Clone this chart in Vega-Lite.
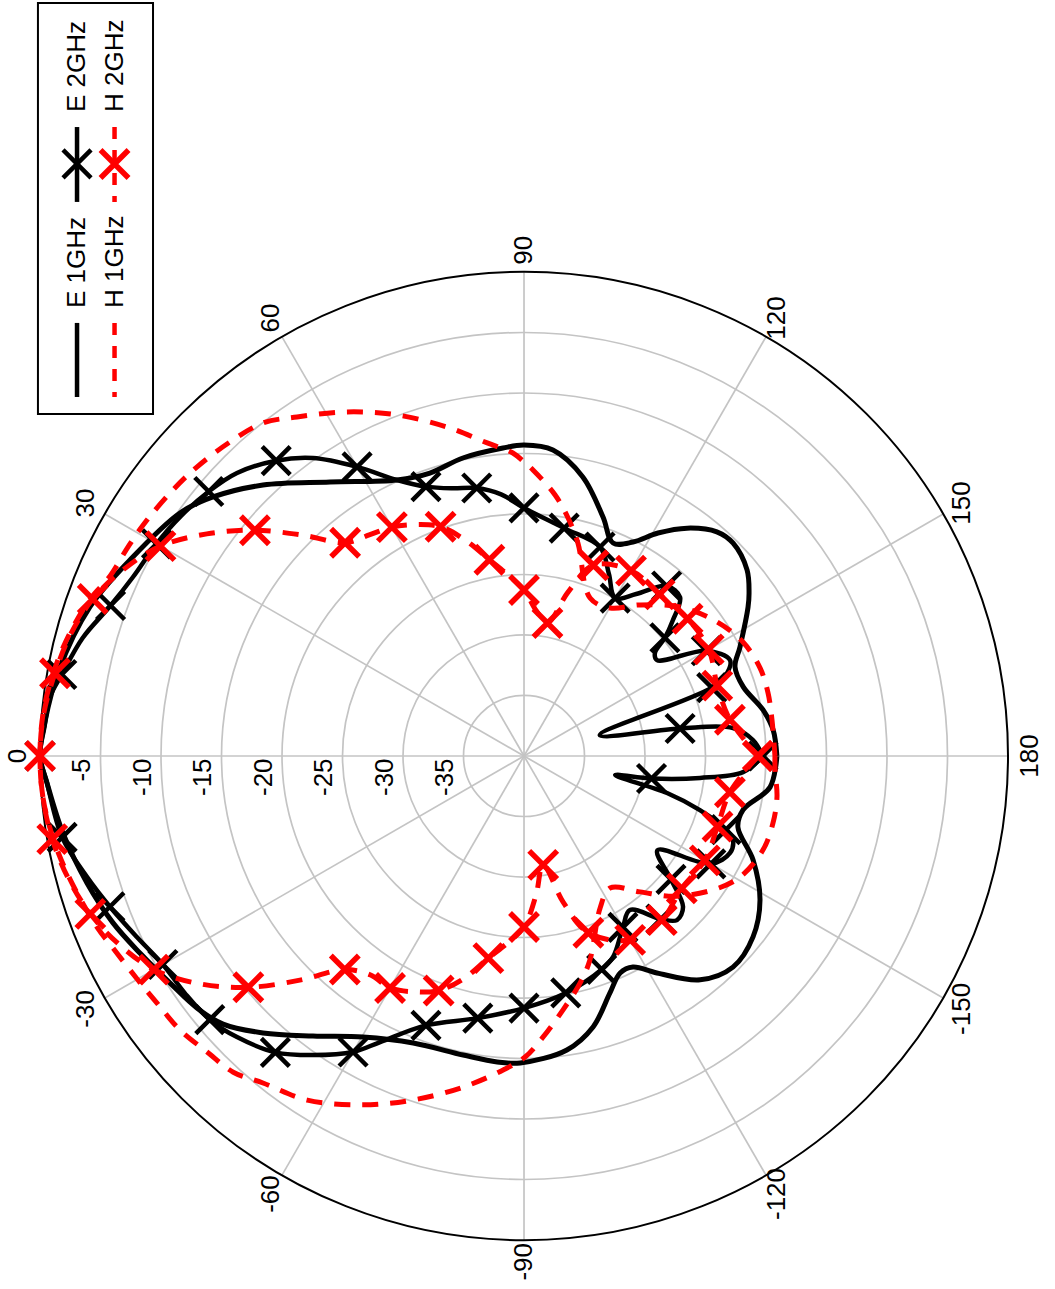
{
  "$schema": "https://vega.github.io/schema/vega-lite/v6.json",
  "width": 1055,
  "height": 1289,
  "autosize": {"type": "none"},
  "padding": 0,
  "background": "white",
  "config": {"view": {"stroke": null}},
  "data": {"values": [{"k": 1}]},
  "datasets": {
    "rings": [{"db": -35}, {"db": -30}, {"db": -25}, {"db": -20}, {"db": -15}, {"db": -10}, {"db": -5}],
    "outer": [{"db": 0}],
    "spokes": [{"a": 0}, {"a": 30}, {"a": 60}, {"a": 90}, {"a": 120}, {"a": 150}, {"a": 180}, {"a": 210}, {"a": 240}, {"a": 270}, {"a": 300}, {"a": 330}],
    "alabels": [{"a": 0, "t": "0"}, {"a": 30, "t": "30"}, {"a": 60, "t": "60"}, {"a": 90, "t": "90"}, {"a": 120, "t": "120"}, {"a": 150, "t": "150"}, {"a": 180, "t": "180"}, {"a": -150, "t": "-150"}, {"a": -120, "t": "-120"}, {"a": -90, "t": "-90"}, {"a": -60, "t": "-60"}, {"a": -30, "t": "-30"}],
    "rlabels": [{"db": -5, "t": "-5"}, {"db": -10, "t": "-10"}, {"db": -15, "t": "-15"}, {"db": -20, "t": "-20"}, {"db": -25, "t": "-25"}, {"db": -30, "t": "-30"}, {"db": -35, "t": "-35"}],
    "curves": [
      {"s": "E1", "a": -180, "db": -19.1}, {"s": "E1", "a": -172.8, "db": -19.5}, {"s": "E1", "a": -166.2, "db": -21.36}, {"s": "E1", "a": -161.6, "db": -21.37}, {"s": "E1", "a": -155.6, "db": -19.21}, {"s": "E1", "a": -148.6, "db": -17.15}, {"s": "E1", "a": -141.7, "db": -15.88}, {"s": "E1", "a": -134.7, "db": -15.45}, {"s": "E1", "a": -128.2, "db": -16.46}, {"s": "E1", "a": -121.5, "db": -18.97}, {"s": "E1", "a": -117.3, "db": -20.37}, {"s": "E1", "a": -113.9, "db": -20.39}, {"s": "E1", "a": -109.9, "db": -19.16}, {"s": "E1", "a": -104.3, "db": -16.89}, {"s": "E1", "a": -98.3, "db": -15.45}, {"s": "E1", "a": -89.3, "db": -14.63}, {"s": "E1", "a": -85, "db": -14.61}, {"s": "E1", "a": -78.5, "db": -14.78}, {"s": "E1", "a": -68.9, "db": -14.57}, {"s": "E1", "a": -60.2, "db": -13.23}, {"s": "E1", "a": -53, "db": -11.02}, {"s": "E1", "a": -46.7, "db": -8.55}, {"s": "E1", "a": -41.7, "db": -6.69}, {"s": "E1", "a": -37.6, "db": -5.88}, {"s": "E1", "a": -32.7, "db": -5.25}, {"s": "E1", "a": -27.2, "db": -4.33}, {"s": "E1", "a": -22.1, "db": -3.34}, {"s": "E1", "a": -16.2, "db": -2.39}, {"s": "E1", "a": -9.5, "db": -1.37}, {"s": "E1", "a": -3.2, "db": -0.51}, {"s": "E1", "a": 0, "db": 0}, {"s": "E1", "a": 4, "db": -0.3}, {"s": "E1", "a": 10.35, "db": -0.9}, {"s": "E1", "a": 18.95, "db": -2.07}, {"s": "E1", "a": 26.45, "db": -3.63}, {"s": "E1", "a": 35.24, "db": -5.19}, {"s": "E1", "a": 39.79, "db": -6.55}, {"s": "E1", "a": 46.07, "db": -8.91}, {"s": "E1", "a": 54.7, "db": -12.26}, {"s": "E1", "a": 65.3, "db": -14.89}, {"s": "E1", "a": 71.6, "db": -15.36}, {"s": "E1", "a": 78.4, "db": -14.86}, {"s": "E1", "a": 86.1, "db": -14.49}, {"s": "E1", "a": 90, "db": -14.3}, {"s": "E1", "a": 95.4, "db": -14.6}, {"s": "E1", "a": 101.9, "db": -16.43}, {"s": "E1", "a": 108.3, "db": -19.2}, {"s": "E1", "a": 112.7, "db": -20.92}, {"s": "E1", "a": 117, "db": -20.15}, {"s": "E1", "a": 121, "db": -18.5}, {"s": "E1", "a": 125.6, "db": -16.84}, {"s": "E1", "a": 130.7, "db": -15.56}, {"s": "E1", "a": 134.5, "db": -15.34}, {"s": "E1", "a": 140.2, "db": -16.0}, {"s": "E1", "a": 144.1, "db": -17.04}, {"s": "E1", "a": 146.4, "db": -17.77}, {"s": "E1", "a": 153.2, "db": -20.0}, {"s": "E1", "a": 157.1, "db": -21.07}, {"s": "E1", "a": 162.5, "db": -21.0}, {"s": "E1", "a": 169.1, "db": -19.88}, {"s": "E1", "a": 174, "db": -19.3}, {"s": "E1", "a": 180, "db": -19.1},

      {"s": "E2", "a": -180, "db": -20.25, "m": 1}, {"s": "E2", "a": -175.8, "db": -21.85}, {"s": "E2", "a": -172.9, "db": -25.34}, {"s": "E2", "a": -170, "db": -29.3, "m": 1}, {"s": "E2", "a": -168.2, "db": -32.3}, {"s": "E2", "a": -165.5, "db": -27.79}, {"s": "E2", "a": -162.9, "db": -24.79}, {"s": "E2", "a": -160, "db": -22.23, "m": 1}, {"s": "E2", "a": -158.1, "db": -21.39}, {"s": "E2", "a": -154.8, "db": -21.18}, {"s": "E2", "a": -150, "db": -22.17, "m": 1}, {"s": "E2", "a": -144.8, "db": -26.5}, {"s": "E2", "a": -140, "db": -24.14, "m": 1}, {"s": "E2", "a": -136.5, "db": -21.88}, {"s": "E2", "a": -133, "db": -21.46}, {"s": "E2", "a": -130, "db": -22.4, "m": 1}, {"s": "E2", "a": -124.5, "db": -24.55}, {"s": "E2", "a": -120, "db": -23.65, "m": 1}, {"s": "E2", "a": -113.9, "db": -21.83}, {"s": "E2", "a": -110, "db": -21.23, "m": 1}, {"s": "E2", "a": -100, "db": -20.12, "m": 1}, {"s": "E2", "a": -90, "db": -19.17, "m": 1}, {"s": "E2", "a": -80, "db": -18.0, "m": 1}, {"s": "E2", "a": -70, "db": -16.31, "m": 1}, {"s": "E2", "a": -63.3, "db": -13.54}, {"s": "E2", "a": -60, "db": -11.75, "m": 1}, {"s": "E2", "a": -54.8, "db": -9.75}, {"s": "E2", "a": -50, "db": -8.03, "m": 1}, {"s": "E2", "a": -44.4, "db": -6.8}, {"s": "E2", "a": -40, "db": -6.1, "m": 1}, {"s": "E2", "a": -35, "db": -5.8}, {"s": "E2", "a": -30, "db": -5.54, "m": 1}, {"s": "E2", "a": -25.1, "db": -4.69}, {"s": "E2", "a": -20, "db": -3.58, "m": 1}, {"s": "E2", "a": -15.5, "db": -2.53}, {"s": "E2", "a": -10, "db": -1.24, "m": 1}, {"s": "E2", "a": -3.2, "db": -0.51}, {"s": "E2", "a": 0, "db": 0, "m": 1}, {"s": "E2", "a": 3.5, "db": -0.3}, {"s": "E2", "a": 7.1, "db": -0.52}, {"s": "E2", "a": 10, "db": -1.21, "m": 1}, {"s": "E2", "a": 15, "db": -2.25}, {"s": "E2", "a": 20, "db": -3.64, "m": 1}, {"s": "E2", "a": 24.6, "db": -4.46}, {"s": "E2", "a": 30, "db": -4.93, "m": 1}, {"s": "E2", "a": 35, "db": -5.4}, {"s": "E2", "a": 40, "db": -5.99, "m": 1}, {"s": "E2", "a": 44.6, "db": -6.69}, {"s": "E2", "a": 50, "db": -8.14, "m": 1}, {"s": "E2", "a": 54.7, "db": -9.83}, {"s": "E2", "a": 60, "db": -12.41, "m": 1}, {"s": "E2", "a": 65.3, "db": -14.89}, {"s": "E2", "a": 70, "db": -16.31, "m": 1}, {"s": "E2", "a": 75, "db": -17.1}, {"s": "E2", "a": 80, "db": -17.51, "m": 1}, {"s": "E2", "a": 85, "db": -18.3}, {"s": "E2", "a": 90, "db": -19.5, "m": 1}, {"s": "E2", "a": 100, "db": -20.88, "m": 1}, {"s": "E2", "a": 110, "db": -21.62, "m": 1}, {"s": "E2", "a": 115, "db": -23.4}, {"s": "E2", "a": 120, "db": -24.93, "m": 1}, {"s": "E2", "a": 124.7, "db": -23.72}, {"s": "E2", "a": 130, "db": -21.66, "m": 1}, {"s": "E2", "a": 134.5, "db": -21.6}, {"s": "E2", "a": 137.6, "db": -23.33}, {"s": "E2", "a": 140, "db": -24.8, "m": 1}, {"s": "E2", "a": 141.8, "db": -26.23}, {"s": "E2", "a": 144.2, "db": -26.45}, {"s": "E2", "a": 150, "db": -22.6, "m": 1}, {"s": "E2", "a": 155, "db": -21.22}, {"s": "E2", "a": 157.8, "db": -21.88}, {"s": "E2", "a": 160, "db": -23.49, "m": 1}, {"s": "E2", "a": 164.6, "db": -33.5}, {"s": "E2", "a": 170, "db": -26.9, "m": 1}, {"s": "E2", "a": 172.4, "db": -22.57}, {"s": "E2", "a": 176, "db": -21.03}, {"s": "E2", "a": 180, "db": -20.25},

      {"s": "H1", "a": -180, "db": -19.26}, {"s": "H1", "a": -176.8, "db": -19.22}, {"s": "H1", "a": -170.8, "db": -18.82}, {"s": "H1", "a": -164.9, "db": -18.69}, {"s": "H1", "a": -158.5, "db": -18.78}, {"s": "H1", "a": -150.7, "db": -19.54}, {"s": "H1", "a": -144.7, "db": -20.85}, {"s": "H1", "a": -137, "db": -23.0}, {"s": "H1", "a": -130.5, "db": -25.23}, {"s": "H1", "a": -123.1, "db": -26.98}, {"s": "H1", "a": -116.6, "db": -25.95}, {"s": "H1", "a": -107.9, "db": -22.28}, {"s": "H1", "a": -103.9, "db": -20.68}, {"s": "H1", "a": -98.7, "db": -18.76}, {"s": "H1", "a": -93.9, "db": -16.73}, {"s": "H1", "a": -90.2, "db": -15.12}, {"s": "H1", "a": -86.2, "db": -13.99}, {"s": "H1", "a": -79.6, "db": -12.18}, {"s": "H1", "a": -72.1, "db": -10.12}, {"s": "H1", "a": -65.2, "db": -8.24}, {"s": "H1", "a": -57.8, "db": -6.39}, {"s": "H1", "a": -51.4, "db": -5.42}, {"s": "H1", "a": -47.4, "db": -4.5}, {"s": "H1", "a": -43, "db": -4.16}, {"s": "H1", "a": -38.5, "db": -3.65}, {"s": "H1", "a": -34, "db": -3.44}, {"s": "H1", "a": -30, "db": -3.1}, {"s": "H1", "a": -25, "db": -2.5}, {"s": "H1", "a": -21.8, "db": -1.98}, {"s": "H1", "a": -15, "db": -1.1}, {"s": "H1", "a": -10, "db": -0.5}, {"s": "H1", "a": -5, "db": -0.1}, {"s": "H1", "a": 0, "db": 0}, {"s": "H1", "a": 5, "db": -0.1}, {"s": "H1", "a": 10, "db": -0.5}, {"s": "H1", "a": 15, "db": -1.1}, {"s": "H1", "a": 20, "db": -1.9}, {"s": "H1", "a": 23.5, "db": -2.7}, {"s": "H1", "a": 28, "db": -3.0}, {"s": "H1", "a": 32, "db": -3.24}, {"s": "H1", "a": 37.2, "db": -3.6}, {"s": "H1", "a": 41.5, "db": -3.93}, {"s": "H1", "a": 46.9, "db": -4.45}, {"s": "H1", "a": 51.9, "db": -5.03}, {"s": "H1", "a": 56.2, "db": -6.28}, {"s": "H1", "a": 62.8, "db": -8.03}, {"s": "H1", "a": 69.6, "db": -9.93}, {"s": "H1", "a": 76.8, "db": -12.07}, {"s": "H1", "a": 83.3, "db": -13.95}, {"s": "H1", "a": 87.9, "db": -14.94}, {"s": "H1", "a": 90, "db": -15.7}, {"s": "H1", "a": 91.8, "db": -16.35}, {"s": "H1", "a": 96.8, "db": -18.28}, {"s": "H1", "a": 100.5, "db": -20.0}, {"s": "H1", "a": 104.2, "db": -21.84}, {"s": "H1", "a": 112.7, "db": -25.85}, {"s": "H1", "a": 120.2, "db": -25.85}, {"s": "H1", "a": 127.5, "db": -24.26}, {"s": "H1", "a": 136.3, "db": -22.17}, {"s": "H1", "a": 145.2, "db": -20.58}, {"s": "H1", "a": 152.5, "db": -19.6}, {"s": "H1", "a": 159.6, "db": -19.18}, {"s": "H1", "a": 165.5, "db": -19.17}, {"s": "H1", "a": 171.7, "db": -19.29}, {"s": "H1", "a": 180, "db": -19.26},

      {"s": "H2", "a": -180, "db": -20.66, "m": 1}, {"s": "H2", "a": -170, "db": -22.72, "m": 1}, {"s": "H2", "a": -160, "db": -22.98, "m": 1}, {"s": "H2", "a": -150, "db": -22.75, "m": 1}, {"s": "H2", "a": -140, "db": -22.98, "m": 1}, {"s": "H2", "a": -130, "db": -22.29, "m": 1}, {"s": "H2", "a": -120, "db": -22.45, "m": 1}, {"s": "H2", "a": -110, "db": -24.45, "m": 1}, {"s": "H2", "a": -105, "db": -27.5}, {"s": "H2", "a": -100, "db": -30.86, "m": 1}, {"s": "H2", "a": -95, "db": -28.5}, {"s": "H2", "a": -90, "db": -25.87, "m": 1}, {"s": "H2", "a": -85, "db": -24.5}, {"s": "H2", "a": -80, "db": -23.04, "m": 1}, {"s": "H2", "a": -75, "db": -21.0}, {"s": "H2", "a": -70, "db": -19.37, "m": 1}, {"s": "H2", "a": -65, "db": -18.5}, {"s": "H2", "a": -60, "db": -17.86, "m": 1}, {"s": "H2", "a": -55, "db": -17.9}, {"s": "H2", "a": -50, "db": -16.96, "m": 1}, {"s": "H2", "a": -45, "db": -13.8}, {"s": "H2", "a": -40, "db": -10.26, "m": 1}, {"s": "H2", "a": -35, "db": -7.2}, {"s": "H2", "a": -30, "db": -4.69, "m": 1}, {"s": "H2", "a": -25, "db": -3.1}, {"s": "H2", "a": -20, "db": -1.86, "m": 1}, {"s": "H2", "a": -15, "db": -1.0}, {"s": "H2", "a": -10, "db": -0.41, "m": 1}, {"s": "H2", "a": -5, "db": -0.1}, {"s": "H2", "a": 0, "db": 0, "m": 1}, {"s": "H2", "a": 5, "db": -0.15}, {"s": "H2", "a": 10, "db": -0.64, "m": 1}, {"s": "H2", "a": 15, "db": -1.2}, {"s": "H2", "a": 20, "db": -2.07, "m": 1}, {"s": "H2", "a": 25, "db": -3.5}, {"s": "H2", "a": 30, "db": -5.31, "m": 1}, {"s": "H2", "a": 35, "db": -8.0}, {"s": "H2", "a": 40, "db": -10.97, "m": 1}, {"s": "H2", "a": 45, "db": -14.2}, {"s": "H2", "a": 50, "db": -17.0, "m": 1}, {"s": "H2", "a": 55, "db": -17.7}, {"s": "H2", "a": 60, "db": -18.16, "m": 1}, {"s": "H2", "a": 65, "db": -18.9}, {"s": "H2", "a": 70, "db": -19.84, "m": 1}, {"s": "H2", "a": 75, "db": -21.6}, {"s": "H2", "a": 80, "db": -23.53, "m": 1}, {"s": "H2", "a": 85, "db": -25.0}, {"s": "H2", "a": 90, "db": -26.28, "m": 1}, {"s": "H2", "a": 95, "db": -28.0}, {"s": "H2", "a": 100, "db": -28.84, "m": 1}, {"s": "H2", "a": 105, "db": -26.0}, {"s": "H2", "a": 110, "db": -23.22, "m": 1}, {"s": "H2", "a": 120, "db": -22.31, "m": 1}, {"s": "H2", "a": 130, "db": -22.56, "m": 1}, {"s": "H2", "a": 140, "db": -22.35, "m": 1}, {"s": "H2", "a": 150, "db": -22.37, "m": 1}, {"s": "H2", "a": 160, "db": -23.0, "m": 1}, {"s": "H2", "a": 170, "db": -22.72, "m": 1}, {"s": "H2", "a": 180, "db": -20.66, "m": 1}
    ],
    "legtext": [{"t": "E 1GHz", "c": 0, "r": 0}, {"t": "H 1GHz", "c": 1, "r": 0}, {"t": "E 2GHz", "c": 0, "r": 1}, {"t": "H 2GHz", "c": 1, "r": 1}],
    "legbox": [{"x1": -40.17, "x2": -30.66, "y1": 62.23, "y2": 28.26}],
    "legline": [{"s": "E1", "x": -36.94, "y1": 29.67, "y2": 35.79}, {"s": "H1", "x": -33.84, "y1": 35.79, "y2": 29.67}, {"s": "E2", "x": -36.94, "y1": 45.79, "y2": 51.98}, {"s": "H2", "x": -33.84, "y1": 51.98, "y2": 45.79}],
    "legmark": [{"s": "E2", "x": -36.94, "y": 48.93}, {"s": "H2", "x": -33.84, "y": 48.93}]
  },
  "layer": [
    {
      "data": {"name": "rings"},
      "transform": [{"calculate": "datum.db + 40", "as": "rr"}, {"calculate": "0", "as": "cx"}],
      "mark": {"type": "point", "shape": "circle", "filled": false, "stroke": "#c4c4c4", "strokeWidth": 1.7, "opacity": 1},
      "encoding": {
        "x": {"field": "cx", "type": "quantitative", "scale": {"domain": [-43.306, 43.884], "nice": false, "zero": false}, "axis": null},
        "y": {"field": "cx", "type": "quantitative", "scale": {"domain": [-44.05, 62.479], "nice": false, "zero": false}, "axis": null},
        "size": {"field": "rr", "type": "quantitative", "scale": {"type": "pow", "exponent": 2, "domain": [0, 40], "range": [0, 937024]}, "legend": null}
      }
    },
    {
      "data": {"name": "spokes"},
      "transform": [
        {"calculate": "0", "as": "cx"},
        {"calculate": "-40 * cos(datum.a * PI / 180)", "as": "ex"},
        {"calculate": "40 * sin(datum.a * PI / 180)", "as": "ey"}
      ],
      "mark": {"type": "rule", "stroke": "#c4c4c4", "strokeWidth": 1.7},
      "encoding": {
        "x": {"field": "cx", "type": "quantitative", "scale": {"domain": [-43.306, 43.884], "nice": false, "zero": false}, "axis": null},
        "y": {"field": "cx", "type": "quantitative", "scale": {"domain": [-44.05, 62.479], "nice": false, "zero": false}, "axis": null},
        "x2": {"field": "ex"},
        "y2": {"field": "ey"}
      }
    },
    {
      "data": {"name": "outer"},
      "transform": [{"calculate": "datum.db + 40", "as": "rr"}, {"calculate": "0", "as": "cx"}],
      "mark": {"type": "point", "shape": "circle", "filled": false, "stroke": "black", "strokeWidth": 2, "opacity": 1},
      "encoding": {
        "x": {"field": "cx", "type": "quantitative", "scale": {"domain": [-43.306, 43.884], "nice": false, "zero": false}, "axis": null},
        "y": {"field": "cx", "type": "quantitative", "scale": {"domain": [-44.05, 62.479], "nice": false, "zero": false}, "axis": null},
        "size": {"field": "rr", "type": "quantitative", "scale": {"type": "pow", "exponent": 2, "domain": [0, 40], "range": [0, 937024]}, "legend": null}
      }
    },
    {
      "data": {"name": "alabels"},
      "transform": [
        {"calculate": "-41.8 * cos(datum.a * PI / 180)", "as": "x"},
        {"calculate": "41.8 * sin(datum.a * PI / 180)", "as": "y"}
      ],
      "mark": {"type": "text", "angle": 270, "font": "Liberation Sans", "fontSize": 26, "align": "center", "baseline": "middle", "color": "black"},
      "encoding": {
        "x": {"field": "x", "type": "quantitative", "scale": {"domain": [-43.306, 43.884], "nice": false, "zero": false}, "axis": null},
        "y": {"field": "y", "type": "quantitative", "scale": {"domain": [-44.05, 62.479], "nice": false, "zero": false}, "axis": null},
        "text": {"field": "t", "type": "nominal"}
      }
    },
    {
      "data": {"name": "rlabels"},
      "transform": [
        {"calculate": "-(datum.db + 40) - 1.5", "as": "x"},
        {"calculate": "-0.2", "as": "y"}
      ],
      "mark": {"type": "text", "angle": 270, "font": "Liberation Sans", "fontSize": 26, "align": "right", "baseline": "middle", "color": "black"},
      "encoding": {
        "x": {"field": "x", "type": "quantitative", "scale": {"domain": [-43.306, 43.884], "nice": false, "zero": false}, "axis": null},
        "y": {"field": "y", "type": "quantitative", "scale": {"domain": [-44.05, 62.479], "nice": false, "zero": false}, "axis": null},
        "text": {"field": "t", "type": "nominal"}
      }
    },
    {
      "data": {"name": "curves"},
      "transform": [
        {"filter": "datum.s == 'E1'"},
        {"calculate": "-(datum.db + 40) * cos(datum.a * PI / 180)", "as": "x"},
        {"calculate": "(datum.db + 40) * sin(datum.a * PI / 180)", "as": "y"}
      ],
      "mark": {"type": "line", "stroke": "black", "strokeWidth": 5, "interpolate": "catmull-rom", "strokeJoin": "round"},
      "encoding": {
        "x": {"field": "x", "type": "quantitative", "scale": {"domain": [-43.306, 43.884], "nice": false, "zero": false}, "axis": null},
        "y": {"field": "y", "type": "quantitative", "scale": {"domain": [-44.05, 62.479], "nice": false, "zero": false}, "axis": null},
        "order": {"field": "a", "type": "quantitative"}
      }
    },
    {
      "data": {"name": "curves"},
      "transform": [
        {"filter": "datum.s == 'E2'"},
        {"calculate": "-(datum.db + 40) * cos(datum.a * PI / 180)", "as": "x"},
        {"calculate": "(datum.db + 40) * sin(datum.a * PI / 180)", "as": "y"}
      ],
      "mark": {"type": "line", "stroke": "black", "strokeWidth": 4.5, "interpolate": "catmull-rom", "strokeJoin": "round"},
      "encoding": {
        "x": {"field": "x", "type": "quantitative", "scale": {"domain": [-43.306, 43.884], "nice": false, "zero": false}, "axis": null},
        "y": {"field": "y", "type": "quantitative", "scale": {"domain": [-44.05, 62.479], "nice": false, "zero": false}, "axis": null},
        "order": {"field": "a", "type": "quantitative"}
      }
    },
    {
      "data": {"name": "curves"},
      "transform": [
        {"filter": "datum.s == 'E2' && datum.m == 1"},
        {"calculate": "-(datum.db + 40) * cos(datum.a * PI / 180)", "as": "x"},
        {"calculate": "(datum.db + 40) * sin(datum.a * PI / 180)", "as": "y"}
      ],
      "mark": {"type": "point", "shape": "M-1,-1L1,1M-1,1L1,-1", "filled": false, "stroke": "black", "strokeWidth": 4.5, "size": 784, "opacity": 1},
      "encoding": {
        "x": {"field": "x", "type": "quantitative", "scale": {"domain": [-43.306, 43.884], "nice": false, "zero": false}, "axis": null},
        "y": {"field": "y", "type": "quantitative", "scale": {"domain": [-44.05, 62.479], "nice": false, "zero": false}, "axis": null}
      }
    },
    {
      "data": {"name": "curves"},
      "transform": [
        {"filter": "datum.s == 'H1'"},
        {"calculate": "-(datum.db + 40) * cos(datum.a * PI / 180)", "as": "x"},
        {"calculate": "(datum.db + 40) * sin(datum.a * PI / 180)", "as": "y"}
      ],
      "mark": {"type": "line", "stroke": "#ff0000", "strokeWidth": 5, "strokeDash": [16, 12], "interpolate": "catmull-rom"},
      "encoding": {
        "x": {"field": "x", "type": "quantitative", "scale": {"domain": [-43.306, 43.884], "nice": false, "zero": false}, "axis": null},
        "y": {"field": "y", "type": "quantitative", "scale": {"domain": [-44.05, 62.479], "nice": false, "zero": false}, "axis": null},
        "order": {"field": "a", "type": "quantitative"}
      }
    },
    {
      "data": {"name": "curves"},
      "transform": [
        {"filter": "datum.s == 'H2'"},
        {"calculate": "-(datum.db + 40) * cos(datum.a * PI / 180)", "as": "x"},
        {"calculate": "(datum.db + 40) * sin(datum.a * PI / 180)", "as": "y"}
      ],
      "mark": {"type": "line", "stroke": "#ff0000", "strokeWidth": 5, "strokeDash": [16, 12], "interpolate": "catmull-rom"},
      "encoding": {
        "x": {"field": "x", "type": "quantitative", "scale": {"domain": [-43.306, 43.884], "nice": false, "zero": false}, "axis": null},
        "y": {"field": "y", "type": "quantitative", "scale": {"domain": [-44.05, 62.479], "nice": false, "zero": false}, "axis": null},
        "order": {"field": "a", "type": "quantitative"}
      }
    },
    {
      "data": {"name": "curves"},
      "transform": [
        {"filter": "datum.s == 'H2' && datum.m == 1"},
        {"calculate": "-(datum.db + 40) * cos(datum.a * PI / 180)", "as": "x"},
        {"calculate": "(datum.db + 40) * sin(datum.a * PI / 180)", "as": "y"}
      ],
      "mark": {"type": "point", "shape": "M-1,-1L1,1M-1,1L1,-1", "filled": false, "stroke": "#ff0000", "strokeWidth": 5.5, "size": 784, "opacity": 1},
      "encoding": {
        "x": {"field": "x", "type": "quantitative", "scale": {"domain": [-43.306, 43.884], "nice": false, "zero": false}, "axis": null},
        "y": {"field": "y", "type": "quantitative", "scale": {"domain": [-44.05, 62.479], "nice": false, "zero": false}, "axis": null}
      }
    },
    {
      "data": {"name": "legbox"},
      "mark": {"type": "rect", "fill": "white", "stroke": "black", "strokeWidth": 2},
      "encoding": {
        "x": {"field": "x1", "type": "quantitative", "scale": {"domain": [-43.306, 43.884], "nice": false, "zero": false}, "axis": null},
        "x2": {"field": "x2"},
        "y": {"field": "y1", "type": "quantitative", "scale": {"domain": [-44.05, 62.479], "nice": false, "zero": false}, "axis": null},
        "y2": {"field": "y2"}
      }
    },
    {
      "data": {"name": "legline"},
      "transform": [{"filter": "datum.s == 'E1' || datum.s == 'E2'"}],
      "mark": {"type": "rule", "stroke": "black", "strokeWidth": 4.5},
      "encoding": {
        "x": {"field": "x", "type": "quantitative", "scale": {"domain": [-43.306, 43.884], "nice": false, "zero": false}, "axis": null},
        "y": {"field": "y1", "type": "quantitative", "scale": {"domain": [-44.05, 62.479], "nice": false, "zero": false}, "axis": null},
        "y2": {"field": "y2"}
      }
    },
    {
      "data": {"name": "legline"},
      "transform": [{"filter": "datum.s == 'H1' || datum.s == 'H2'"}],
      "mark": {"type": "rule", "stroke": "#ff0000", "strokeWidth": 4.5, "strokeDash": [12, 11]},
      "encoding": {
        "x": {"field": "x", "type": "quantitative", "scale": {"domain": [-43.306, 43.884], "nice": false, "zero": false}, "axis": null},
        "y": {"field": "y1", "type": "quantitative", "scale": {"domain": [-44.05, 62.479], "nice": false, "zero": false}, "axis": null},
        "y2": {"field": "y2"}
      }
    },
    {
      "data": {"name": "legmark"},
      "transform": [{"filter": "datum.s == 'E2'"}],
      "mark": {"type": "point", "shape": "M-1,-1L1,1M-1,1L1,-1", "filled": false, "stroke": "black", "strokeWidth": 4.5, "size": 784, "opacity": 1},
      "encoding": {
        "x": {"field": "x", "type": "quantitative", "scale": {"domain": [-43.306, 43.884], "nice": false, "zero": false}, "axis": null},
        "y": {"field": "y", "type": "quantitative", "scale": {"domain": [-44.05, 62.479], "nice": false, "zero": false}, "axis": null}
      }
    },
    {
      "data": {"name": "legmark"},
      "transform": [{"filter": "datum.s == 'H2'"}],
      "mark": {"type": "point", "shape": "M-1,-1L1,1M-1,1L1,-1", "filled": false, "stroke": "#ff0000", "strokeWidth": 5.5, "size": 784, "opacity": 1},
      "encoding": {
        "x": {"field": "x", "type": "quantitative", "scale": {"domain": [-43.306, 43.884], "nice": false, "zero": false}, "axis": null},
        "y": {"field": "y", "type": "quantitative", "scale": {"domain": [-44.05, 62.479], "nice": false, "zero": false}, "axis": null}
      }
    },
    {
      "data": {"name": "legtext"},
      "transform": [
        {"calculate": "-36.97 + datum.c * 3.13", "as": "x"},
        {"calculate": "datum.r == 0 ? 37.02 : 53.22", "as": "y"}
      ],
      "mark": {"type": "text", "angle": 270, "font": "Liberation Sans", "fontSize": 26, "align": "left", "baseline": "middle", "color": "black"},
      "encoding": {
        "x": {"field": "x", "type": "quantitative", "scale": {"domain": [-43.306, 43.884], "nice": false, "zero": false}, "axis": null},
        "y": {"field": "y", "type": "quantitative", "scale": {"domain": [-44.05, 62.479], "nice": false, "zero": false}, "axis": null},
        "text": {"field": "t", "type": "nominal"}
      }
    }
  ]
}
